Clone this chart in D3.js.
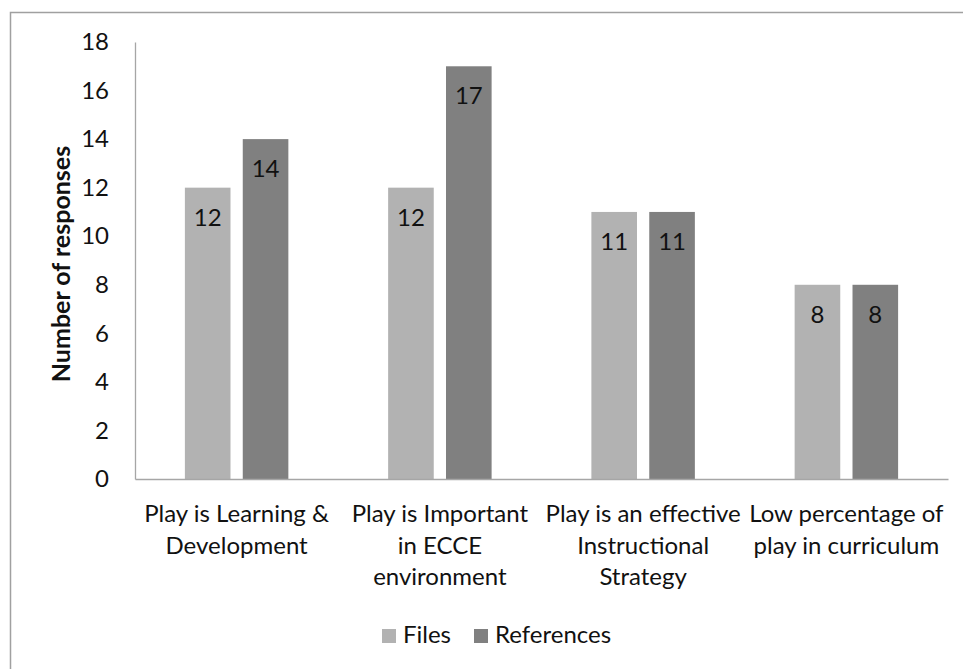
<!DOCTYPE html>
<html><head><meta charset="utf-8">
<script src="https://cdn.jsdelivr.net/npm/d3@7"></script>
<style>body{margin:0;background:#fff}svg{display:block}text{font-family:Lato,"Open Sans",sans-serif}</style>
</head><body>
<script>
const categories = ["Play is Learning & Development","Play is Important in ECCE environment","Play is an effective Instructional Strategy","Low percentage of play in curriculum"];
const categoryLines = [["Play is Learning &","Development"],["Play is Important","in ECCE","environment"],["Play is an effective","Instructional","Strategy"],["Low percentage of","play in curriculum"]];
const seriesNames = ["Files","References"];
const files = [12,12,11,8];
const references = [14,17,11,8];
const yTicks = [0,2,4,6,8,10,12,14,16,18];
const colors = ["#b2b2b2","#808080"];

(function(){
const W=963,H=669;
const svg=d3.select("body").append("svg").attr("width",W).attr("height",H);
svg.append("rect").attr("x",10.5).attr("y",12.5).attr("width",W).attr("height",H).attr("fill","#fff").attr("stroke","#a0a0a0").attr("stroke-width",1.5);

const pL=135,pR=948,pT=42,pB=479;
const x0=d3.scaleBand().domain(categories).range([pL,pR]).padding(0);
const x1=d3.scaleBand().domain(seriesNames).range([0,x0.bandwidth()]).paddingInner(0.212).paddingOuter(0.862);
const y=d3.scaleLinear().domain([0,18]).range([pB,pT]);

const fs=24;
const ya=svg.append("g").attr("transform",`translate(${pL},0)`).call(d3.axisLeft(y).tickValues(yTicks).tickSize(0).tickPadding(26).tickFormat(d3.format("d")));
ya.select(".domain").attr("stroke","#a6a6a6").attr("stroke-width",1.3);
ya.selectAll("text").attr("font-size",fs).attr("fill","#111").attr("font-family","Lato");

const data=categories.map((c,i)=>({c,vals:[{s:"Files",v:files[i]},{s:"References",v:references[i]}]}));
const g=svg.append("g").selectAll("g").data(data).join("g").attr("transform",d=>`translate(${x0(d.c)},0)`);
g.selectAll("rect").data(d=>d.vals).join("rect")
 .attr("x",d=>x1(d.s)).attr("width",x1.bandwidth())
 .attr("y",d=>y(d.v)).attr("height",d=>y(0)-y(d.v))
 .attr("fill",(d,i)=>colors[i]);
g.selectAll("text.lbl").data(d=>d.vals).join("text").attr("class","lbl")
 .attr("x",d=>x1(d.s)+x1.bandwidth()/2).attr("y",d=>y(d.v)+38)
 .attr("text-anchor","middle").attr("font-size",fs).attr("fill","#111").text(d=>d.v);

const xa=svg.append("g").attr("transform",`translate(0,${pB})`).call(d3.axisBottom(x0).tickSize(0).tickFormat(""));
xa.select(".domain").attr("stroke","#a6a6a6").attr("stroke-width",1.3);
categories.forEach((c,i)=>{
  const t=svg.append("text").attr("x",x0(c)+x0.bandwidth()/2).attr("y",522).attr("text-anchor","middle").attr("font-size",fs).attr("fill","#111");
  categoryLines[i].forEach((ln,j)=>t.append("tspan").attr("x",x0(c)+x0.bandwidth()/2).attr("y",522+j*31.5).text(ln));
});

svg.append("text").attr("transform",`translate(70,264) rotate(-90)`).attr("text-anchor","middle")
 .attr("font-size",25).attr("font-weight","bold").attr("fill","#111").text("Number of responses");

const legX=[382,474];
seriesNames.forEach((s,i)=>{
  svg.append("rect").attr("x",legX[i]).attr("y",629).attr("width",14).attr("height",14).attr("fill",colors[i]);
  svg.append("text").attr("x",legX[i]+21).attr("y",643).attr("font-size",fs).attr("fill","#111").text(s);
});
})();
</script>
</body></html>
